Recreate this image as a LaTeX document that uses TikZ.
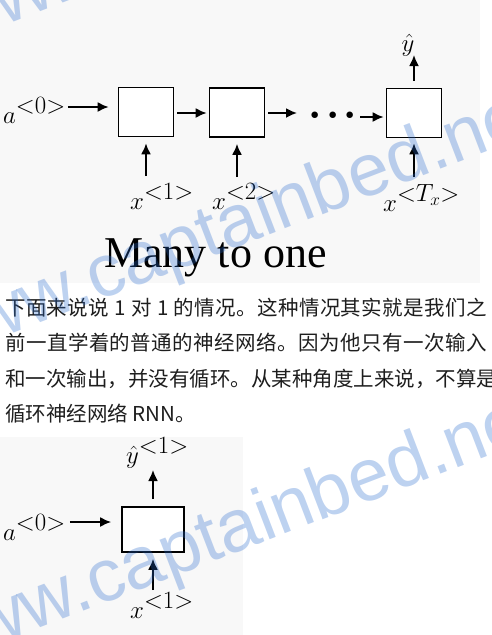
\documentclass[tikz,border=0pt]{standalone}
\usepackage{fontspec}
\usetikzlibrary{arrows.meta}
\newfontfamily\cjk{Noto Sans CJK SC}
\newfontfamily\wmfont{Liberation Sans}
\newfontfamily\capfont{Liberation Serif}
\def\mySpread#1{#1\mySpreadX}
\def\mySpreadX#1{\ifx#1\relax\else\hfil#1\expandafter\mySpreadX\fi}
\definecolor{bgA}{HTML}{F8F8F8}
\definecolor{wm}{RGB}{38,105,205}
\definecolor{txt}{HTML}{1E1E1E}
\tikzset{
  box/.style={draw, line width=1.7pt, fill=white, minimum width=55pt, minimum height=49pt, inner sep=0pt},
  arr/.style={line width=1.8pt, -{Latex[length=11pt,width=10pt]}},
  mlab/.style={inner sep=0pt, font=\fontsize{34}{40}\selectfont},
  zh/.style={inner sep=0pt, anchor=base west, text=txt, font=\cjk\fontsize{20.5}{24}\selectfont},
  wmark/.style={inner sep=0pt, anchor=base west, rotate=21, text=wm, opacity=0.3, font=\wmfont\fontsize{74}{80}\selectfont}
}
\begin{document}
\begin{tikzpicture}[x=1pt, y=-1pt]
\useasboundingbox (0,0) rectangle (491,635);
% backgrounds
\fill[bgA] (0,0) rectangle (480,283);
\fill[bgA] (0,437) rectangle (243,635);
% ---------- many to one ----------
\node[box] (b1) at (146,112) {};
\node[box] (b2) at (237,112.5) {};
\node[box] (b3) at (414,113) {};
\node[mlab, anchor=base west] (a0) at (3,123) {$a^{<0>}$};
\node[inner sep=0pt, anchor=base, font=\capfont\bfseries\fontsize{40}{50}\selectfont] (dots) at (333,128) {·\hspace{4pt}·\hspace{4pt}·};
\node[mlab, anchor=base west] (x1) at (130,209) {$x^{<1>}$};
\node[mlab, anchor=base west] (x2) at (212,209) {$x^{<2>}$};
\node[mlab, anchor=base west] (xT) at (383,211) {$x^{<T_x>}$};
\node[mlab, anchor=base] (yh) at (408,51) {$\hat{y}$};
\node[inner sep=0pt, anchor=base west, font=\capfont\fontsize{44}{50}\selectfont] (cap) at (104,267) {Many to one};
\draw[arr, shorten <=2pt, shorten >=9pt] (a0.east |- 0,107) -- (b1.west |- 0,107);
\draw[arr, shorten <=3pt, shorten >=2pt] (b1.east |- 0,113) -- (b2.west |- 0,113);
\draw[arr, shorten <=3pt] (b2.east |- 0,113) -- (297,113);
\draw[arr, shorten <=3pt, shorten >=2pt] (dots.east |- 0,117) -- (b3.west |- 0,117);
\draw[arr, shorten >=6pt] (b1.south |- 0,176) -- (b1.south);
\draw[arr, shorten >=6pt] (b2.south |- 0,177) -- (b2.south);
\draw[arr, shorten >=5pt] (b3.south |- 0,177) -- (b3.south);
\draw[arr, shorten <=7pt] (b3.north) -- (b3.north |- 0,55);
% ---------- text ----------
\node[zh] (l1) at (5,315) {\makebox[482pt][l]{\mySpread 下面来说说~1~对~1~的情况。这种情况其实就是我们之\relax}};
\node[zh] (l2) at (5,350) {\makebox[482pt][l]{\mySpread 前一直学着的普通的神经网络。因为他只有一次输入\relax}};
\node[zh] (l3) at (5,386) {\makebox[482pt][l]{\mySpread 和一次输出，并没有循环。从某种角度上来说，不算是\relax}};
\node[zh] (l4) at (5,421) {循环神经网络 RNN。};
% ---------- one to one ----------
\node[box, minimum width=62pt, minimum height=45pt] (b4) at (153,529.5) {};
\node[mlab, anchor=base west] (a0b) at (3,540) {$a^{<0>}$};
\node[mlab, anchor=base west] (yb) at (126,463) {$\hat{y}^{<1>}$};
\node[mlab, anchor=base west] (xb) at (130,618) {$x^{<1>}$};
\draw[arr, shorten <=4pt, shorten >=10pt] (a0b.east |- 0,522) -- (b4.west |- 0,522);
\draw[arr, shorten <=7pt] (b4.north) -- (b4.north |- 0,470);
\draw[arr, shorten >=6pt] (b4.south |- 0,590) -- (b4.south);
% ---------- watermark ----------
\node[wmark] (w1) at (-69,54) {www.captainbed.net};
\node[wmark] (w2) at (-69,365) {www.captainbed.net};
\node[wmark] (w3) at (-69,670) {www.captainbed.net};
\end{tikzpicture}
\end{document}
